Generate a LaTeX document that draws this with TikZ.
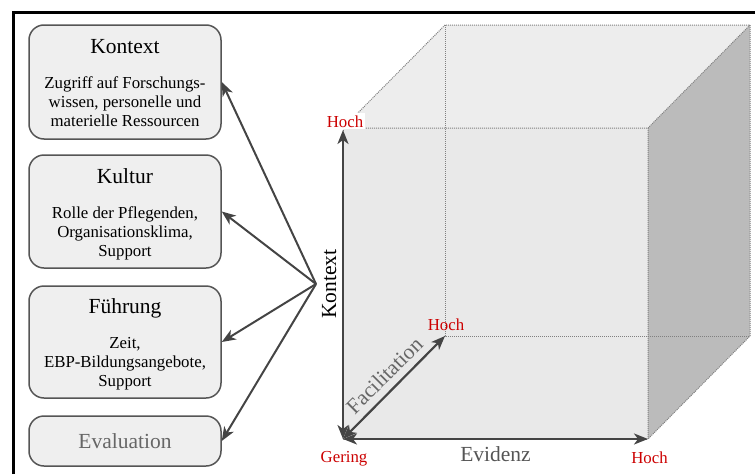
\documentclass[tikz,border=0pt]{standalone}
\usepackage{fontspec}
\setmainfont{Liberation Serif}
\usetikzlibrary{arrows.meta}

\definecolor{panelfill}{HTML}{EFEFEF}
\definecolor{panelline}{HTML}{555555}
\definecolor{arrowdark}{HTML}{444444}
\definecolor{levelred}{HTML}{CC0000}
\definecolor{frontface}{HTML}{E9E9E9}
\definecolor{topface}{HTML}{EDEDED}
\definecolor{sideface}{HTML}{BBBBBB}
\definecolor{edgegray}{HTML}{808080}
\definecolor{softtext}{HTML}{666666}

\begin{document}
\begin{tikzpicture}[x=1pt,y=-1pt,
  panel/.style={draw=panelline, fill=panelfill, line width=1.5pt,
    rounded corners=15pt, minimum width=192pt, inner sep=0pt},
  paneltitle/.style={font=\fontsize{21.5}{24}\selectfont, inner sep=0pt},
  panelbody/.style={font=\fontsize{16.8}{19}\selectfont, align=center, inner sep=0pt},
  link/.style={draw=arrowdark, line width=2pt,
    -{Stealth[length=14pt,width=11pt,inset=4pt]}},
  axis/.style={draw=arrowdark, line width=2.2pt,
    {Stealth[length=14pt,width=11pt,inset=4pt]}-{Stealth[length=14pt,width=11pt,inset=4pt]}},
  level/.style={text=levelred, font=\fontsize{16.8}{19}\selectfont, inner sep=0pt},
  axislabel/.style={font=\fontsize{21.5}{24}\selectfont, inner sep=0pt},
  cubeedge/.style={draw=edgegray, line width=1pt, dash pattern=on 1pt off 1pt}
]
\useasboundingbox (0,0) rectangle (755,474);

% outer frame (top and left rule)
\draw[line width=3pt] (13.5,474) -- (13.5,12) -- (755,12);

% ---------- cube ----------
\coordinate (O)  at (343,439);  % front bottom left
\coordinate (FR) at (648,439);  % front bottom right
\coordinate (FT) at (343,128);  % front top left
\coordinate (FTR) at (648,128); % front top right
\coordinate (B)  at (445,336);  % back bottom left
\coordinate (BR) at (750,336);  % back bottom right
\coordinate (BT) at (445,25);   % back top left
\coordinate (BTR) at (750,25);  % back top right

\fill[topface] (FT) -- (BT) -- (BTR) -- (FTR) -- cycle;
\fill[sideface] (FTR) -- (BTR) -- (BR) -- (FR) -- cycle;
\fill[frontface] (FT) -- (FTR) -- (FR) -- (O) -- cycle;

\draw[cubeedge] (FT) -- (BT) -- (BTR) -- (FTR) -- cycle;
\draw[cubeedge] (BTR) -- (BR) -- (FR) -- (FTR);
\draw[cubeedge] (FT) -- (O) -- (FR);
\draw[cubeedge] (BT) -- (B) -- (BR);
\draw[cubeedge] (O) -- (B);

% axes
\coordinate (KT) at (343,130);
\draw[axis] (O) -- (KT);
\draw[axis] (O) -- (FR);
\draw[axis] (O) -- (B);

% axis labels
\node[level, fill=white, inner sep=2pt, anchor=base] (hochK) at (345,127) {Hoch};
\node[level, anchor=base] (hochF) at (446,330) {Hoch};
\node[level, anchor=base] (hochE) at (649.5,463) {Hoch};
\node[level, anchor=base] (gering) at (344,462.5) {Gering};
\node[axislabel, text=panelline, anchor=base] (evidenz) at (495.5,461) {Evidenz};
\node[axislabel, rotate=90, anchor=base] (kontextAxis) at (336,284) {Kontext};
\node[axislabel, text=softtext, rotate=45, anchor=base] (facil) at (389.5,380.5) {Facilitation};

% ---------- panels ----------
% (the base anchor of a multi-line node sits on its last line)
\node[panel, minimum height=114pt] (kontext) at (125,82) {};
\node[paneltitle, anchor=base] at (125,53) {Kontext};
\node[panelbody, anchor=base] at (125,126) {Zugriff auf Forschungs-\\wissen, personelle und\\materielle Ressourcen};

\node[panel, minimum height=113pt] (kultur) at (125,211.5) {};
\node[paneltitle, anchor=base] at (125,183) {Kultur};
\node[panelbody, anchor=base] at (125,256) {Rolle der Pflegenden,\\Organisationsklima,\\Support};

\node[panel, minimum height=112pt] (fuehrung) at (125,342) {};
\node[paneltitle, anchor=base] at (125,313) {Führung};
\node[panelbody, anchor=base] at (125,386) {Zeit,\\EBP-Bildungsangebote,\\Support};

\node[panel, minimum height=50pt] (evaluation) at (125,441) {};
\node[paneltitle, text=softtext, anchor=base] at (125,448) {Evaluation};

% ---------- links from the axis ----------
\coordinate (hub) at (316,284);
\draw[link] (hub) -- (kontext.east);
\draw[link] (hub) -- (kultur.east);
\draw[link] (hub) -- (fuehrung.east);
\draw[link] (hub) -- (evaluation.east);
\end{tikzpicture}
\end{document}
